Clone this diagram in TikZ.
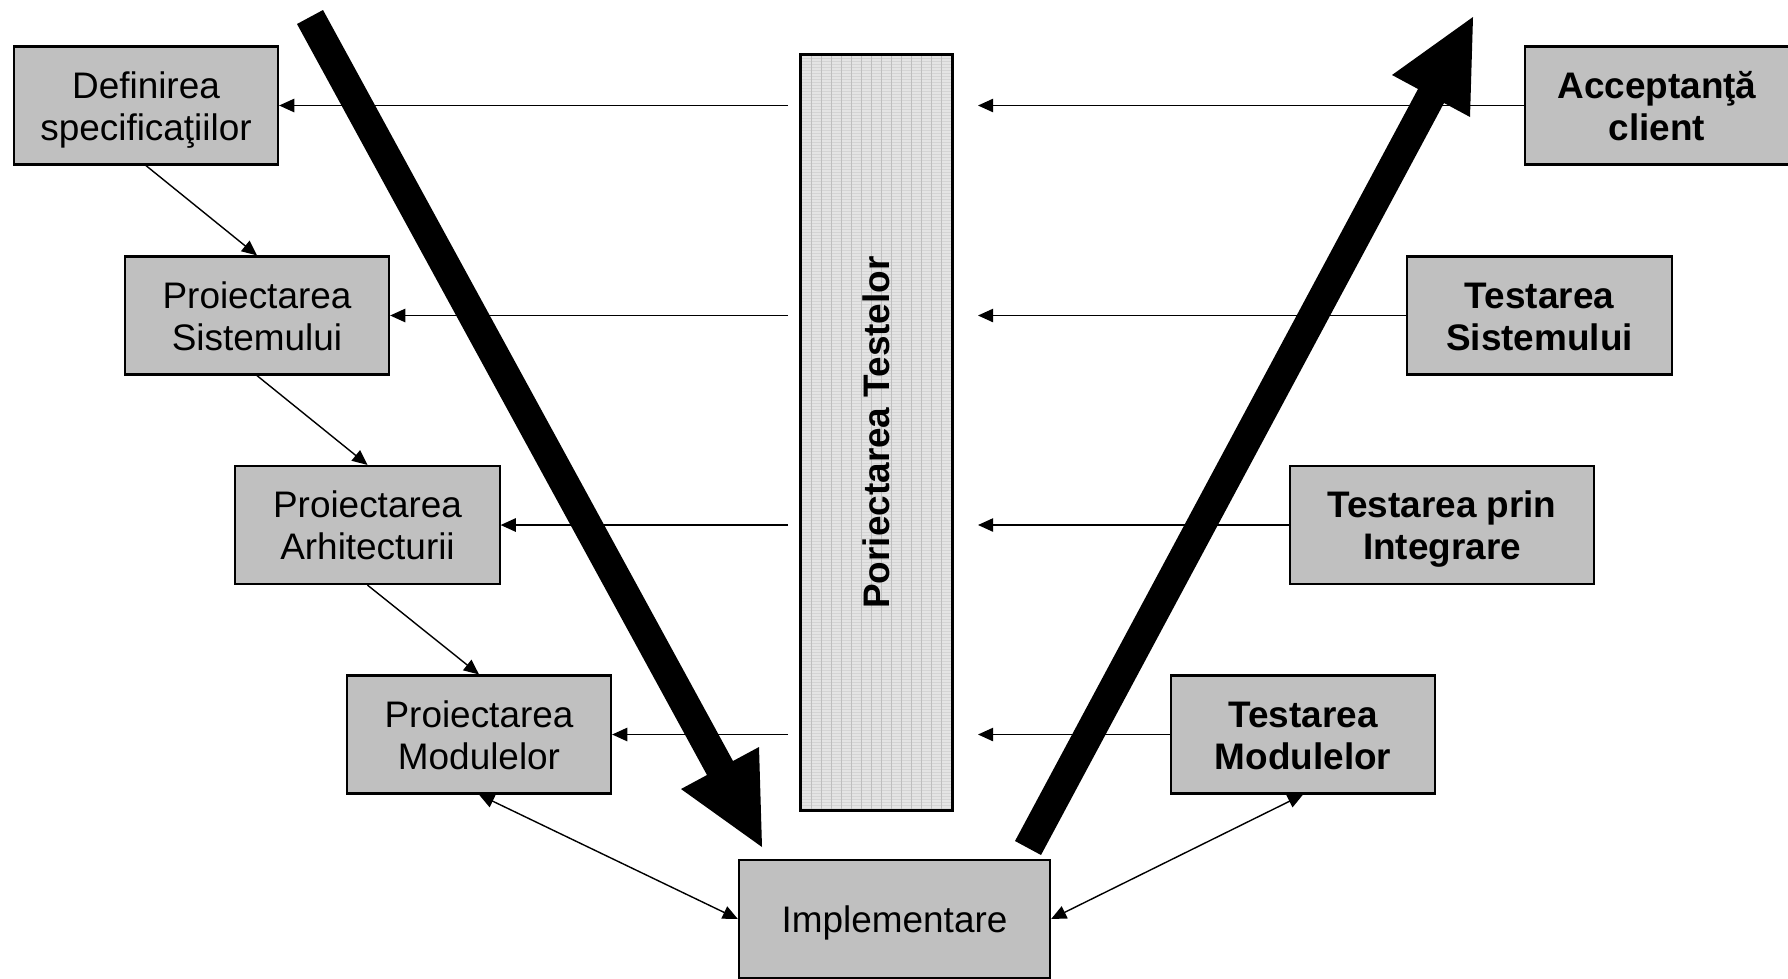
\documentclass[tikz,border=0pt]{standalone}
\usepackage{fontspec}
\setmainfont{Liberation Sans}
\usetikzlibrary{arrows.meta}
\definecolor{boxgray}{RGB}{192,192,192}
\definecolor{bargray}{RGB}{228,228,228}
\definecolor{barline}{RGB}{212,212,212}
\definecolor{barvline}{RGB}{190,190,190}
\newcommand{\tstrut}{\rule{0pt}{10.4pt}}
\newcommand{\bstrut}{\rule[-2.52pt]{0pt}{2.52pt}}

\begin{document}
\begin{tikzpicture}[x=0.01cm,y=-0.01cm]
\tikzstyle{every node}+=[inner sep=0pt, align=center, font=\fontsize{10.5}{12}\selectfont]
\tikzstyle{box}=[draw=black, line width=0.6pt, fill=boxgray, minimum width=2.64cm, minimum height=1.18cm]
\tikzstyle{tbox}=[box, font=\fontsize{10.5}{12}\selectfont\bfseries]
\tikzstyle{arr}=[black, line width=0.4pt, -{Triangle[length=4.3pt,width=3.8pt]}]
\tikzstyle{darr}=[arr, {Triangle[length=4.3pt,width=3.8pt]}-{Triangle[length=4.3pt,width=3.8pt]}]
\useasboundingbox (0,0) rectangle (1788,978);
% bar in the middle
\fill [bargray] (801,55) rectangle (952,810);
\foreach \y in {58,61,...,808}
  \draw [barline, line width=0.15pt] (801,\y) -- (952,\y);
\foreach \x in {811,821,...,945}
  \draw [barvline, line width=0.2pt] (\x,55) -- (\x,810);
\node [draw, line width=0.85pt, rotate=90, minimum width=7.55cm, minimum height=1.51cm, font=\fontsize{10.5}{12}\selectfont\bfseries] (bar) at (876.5,432.5) {Poriectarea Testelor};
% left side
\node [box] (def) at (146,105.5) {\tstrut Definirea\\specificaţiilor\bstrut};
\node [box] (sys) at (257,315.5) {\tstrut Proiectarea\\Sistemului\bstrut};
\node [box] (arh) at (367.5,525) {\tstrut Proiectarea\\Arhitecturii\bstrut};
\node [box] (mod) at (479,734.5) {\tstrut Proiectarea\\Modulelor\bstrut};
\node [box, minimum width=3.11cm] (impl) at (894.5,919) {\tstrut Implementare\bstrut};
% right side
\node [tbox] (acc) at (1657,105.5) {\tstrut Acceptanţă\\client\bstrut};
\node [tbox] (tsys) at (1539.5,315.5) {\tstrut Testarea\\Sistemului\bstrut};
\node [tbox, minimum width=3.04cm] (tint) at (1442,525) {\tstrut Testarea prin\\Integrare\bstrut};
\node [tbox] (tmod) at (1303,734.5) {\tstrut Testarea\\Modulelor\bstrut};
\coordinate (bl) at (788,0);
\coordinate (br) at (978,0);
\draw [arr] (def.south) -- (sys.north);
\draw [arr] (sys.south) -- (arh.north);
\draw [arr] (arh.south) -- (mod.north);
\draw [arr] (bl |- def.east) -- (def.east);
\draw [arr] (bl |- sys.east) -- (sys.east);
\draw [arr] (bl |- arh.east) -- (arh.east);
\draw [arr] (bl |- mod.east) -- (mod.east);
\draw [arr] (acc.west) -- (br |- acc.west);
\draw [arr] (tsys.west) -- (br |- tsys.west);
\draw [arr] (tint.west) -- (br |- tint.west);
\draw [arr] (tmod.west) -- (br |- tmod.west);
\draw [darr] (mod.south) -- (impl.west);
\draw [darr] (impl.east) -- (tmod.south);
% big arrows
\fill [black] (297,24) -- (707,775) -- (681,789) -- (762,847) -- (759,747) -- (733,761) -- (323,10) -- cycle;
\fill [black] (1015,841) -- (1418,89) -- (1392,75) -- (1473,17) -- (1470,117) -- (1444,103) -- (1041,855) -- cycle;
\end{tikzpicture}
\end{document}
